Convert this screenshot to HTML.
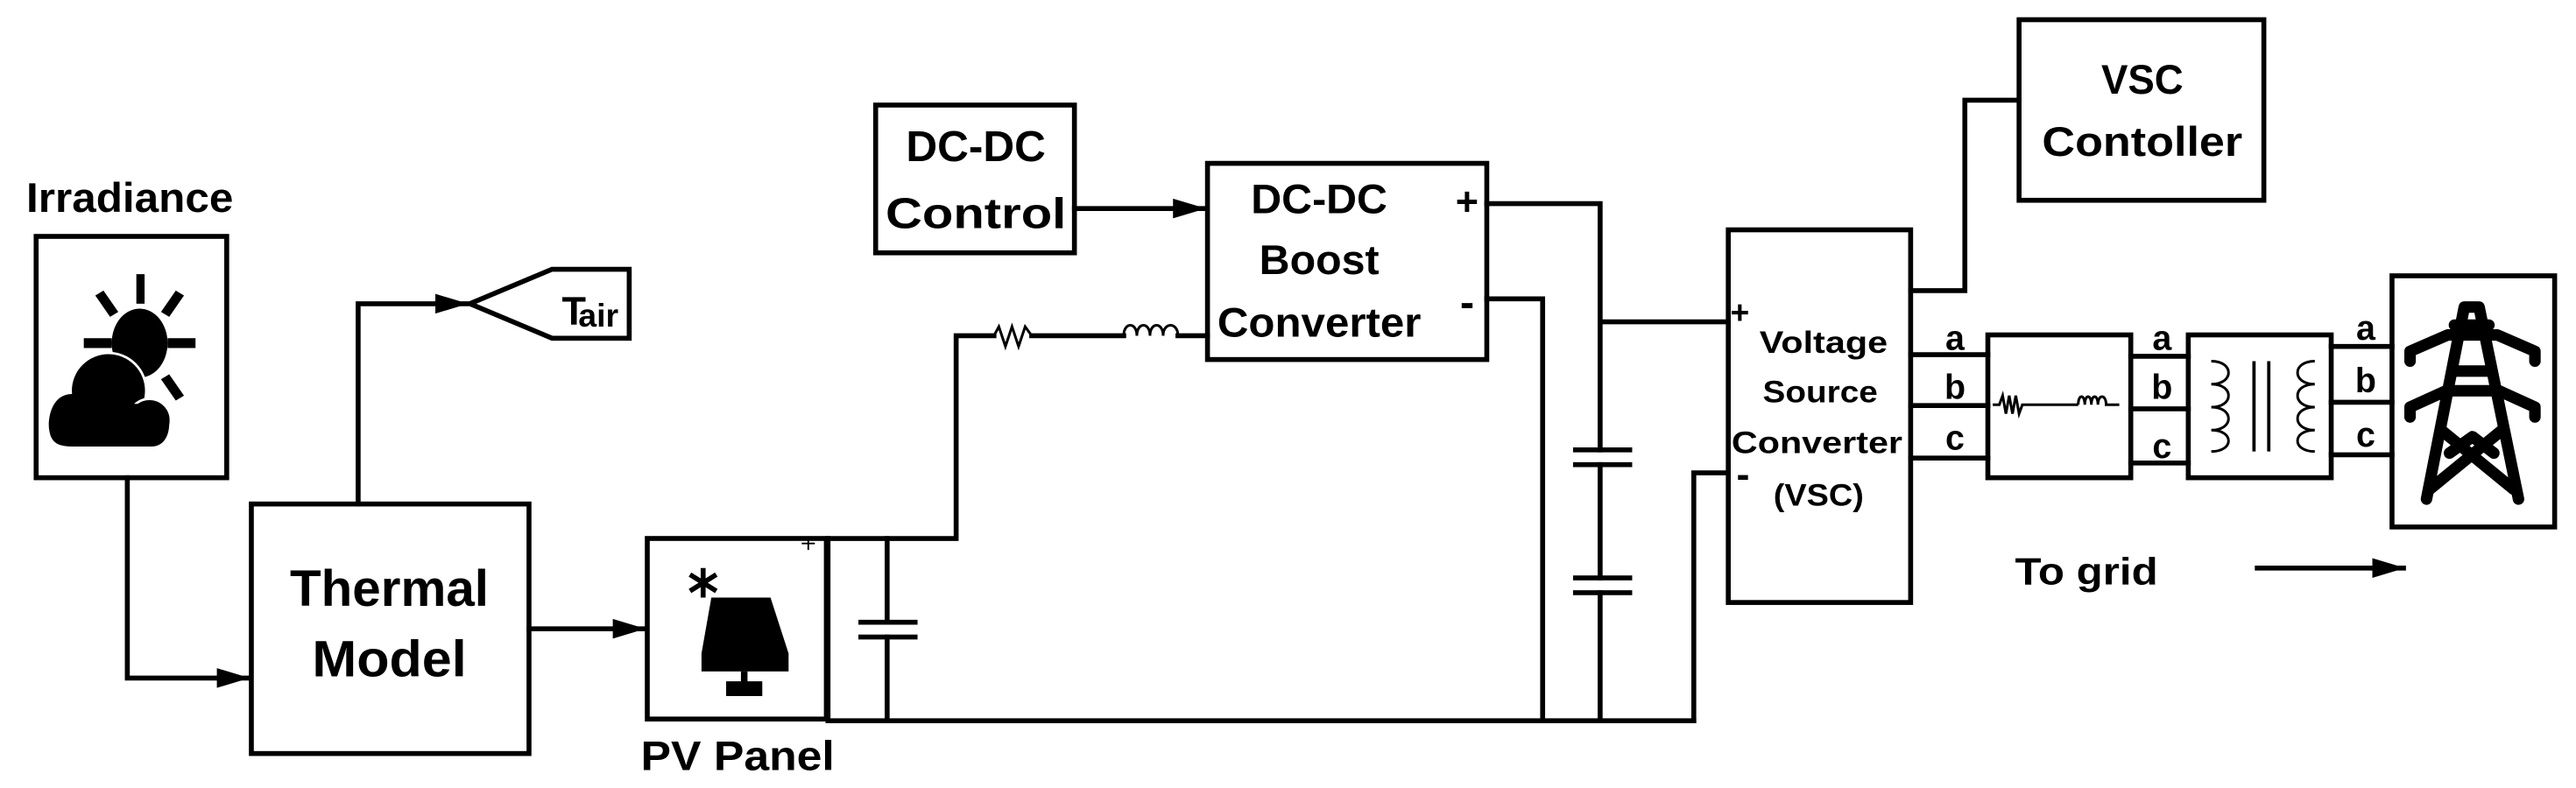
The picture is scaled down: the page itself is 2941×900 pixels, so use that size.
<!DOCTYPE html>
<html><head><meta charset="utf-8"><style>html,body{margin:0;padding:0;background:#fff}svg{display:block}</style></head>
<body>
<svg width="2941" height="900" viewBox="0 0 1568 480" preserveAspectRatio="none" xmlns="http://www.w3.org/2000/svg">
<defs>
<marker id="ar2" markerWidth="20" markerHeight="12" refX="19" refY="6" orient="auto" markerUnits="userSpaceOnUse"><path d="M0,0 L20,6 L0,12 Z" fill="#000"/></marker>
</defs>
<g fill="none" stroke="#000" stroke-width="3" stroke-linecap="square">
<rect x="22" y="144" width="116" height="147"/>
<path d="M77.5 291 V413 H151" marker-end="url(#ar2)"/>
<rect x="153" y="307" width="169" height="152"/>
<path d="M218 307 V185 H284" marker-end="url(#ar2)"/>
<path d="M286 185 L336 164 H383 V206 H336 Z"/>
<path d="M322 383 H392" marker-end="url(#ar2)"/>
<rect x="394" y="328" width="109" height="110"/>
<path d="M504 328 V439 H1031"/>
<path d="M504 328 H582 V204.5 H605"/>
<path d="M628 204.5 H684 M717 204.5 H735"/>
<path d="M540 328 V379 M540 388 V439"/>
<path d="M524 379 H557 M524 388 H557"/>
<rect x="533" y="64" width="121" height="90"/>
<path d="M654 127 H733" marker-end="url(#ar2)"/>
<rect x="735" y="99.5" width="170" height="119.5"/>
<path d="M905 124 H974 V274 M974 283 V352 M974 361 V439"/>
<path d="M959 274 H992 M959 283 H992 M959 352 H992 M959 361 H992"/>
<path d="M974 196 H1052"/>
<path d="M905 182 H939 V439"/>
<path d="M1052 288 H1031 V439"/>
<rect x="1052" y="140" width="111" height="227"/>
<rect x="1229" y="12" width="149" height="110"/>
<path d="M1163 177 H1196 V61 H1229"/>
<path d="M1163 216 H1210 M1163 247 H1210 M1163 279 H1210"/>
<rect x="1210" y="204" width="87" height="87"/>
<path d="M1297 217 H1332 M1297 249 H1332 M1297 282 H1332"/>
<rect x="1332" y="204" width="87" height="87"/>
<path d="M1419 211 H1456 M1419 245 H1456 M1419 277 H1456"/>
<rect x="1456" y="168" width="99" height="153"/>
<path d="M1374 346 H1463" marker-end="url(#ar2)"/>
</g>
<g fill="none" stroke="#000" stroke-width="1.6">
<path d="M605 204.5 L608 199 L612 211 L616 199 L620 211 L624 199 L628 204.5"/>
<path d="M684 204.5 C684 196 692 196 692 204.5 C692 196 700 196 700 204.5 C700 196 708 196 708 204.5 C708 196 717 196 717 204.5"/>
<path d="M1213 246.5 H1217 L1219 241 L1221 252 L1223 241 L1225 252 L1227 241 L1229 252 L1231 246.5 H1265"/>
<path d="M1265 246.5 C1265 240 1269 240 1269 246.5 C1269 240 1273 240 1273 246.5 C1273 240 1277 240 1277 246.5 C1277 240 1282 240 1282 246.5 H1290"/>
<path d="M1346 220 C1360 220 1360 234 1346 234 C1360 234 1360 248 1346 248 C1360 248 1360 262 1346 262 C1360 262 1360 275 1346 275"/>
<path d="M1409 220 C1395 220 1395 234 1409 234 C1395 234 1395 248 1409 248 C1395 248 1395 262 1409 262 C1395 262 1395 275 1409 275"/>
<path d="M1372 220 V275 M1381 220 V275" stroke-width="2"/>
<path d="M488 331 H496 M492 327 V335" stroke-width="1"/>
<path d="M428 346 V364 M420 350 L436 360 M420 360 L436 350" stroke-width="3"/>
</g>
<g fill="#000">
<ellipse cx="85" cy="209" rx="17" ry="21"/>
<rect x="83" y="167" width="5" height="18"/>
<rect x="51" y="206" width="17" height="6"/>
<rect x="102" y="206" width="17" height="6"/>
<path d="M58 180 L63 177 L72 190 L67 193Z"/>
<path d="M112 180 L107 177 L98 190 L103 193Z"/>
<path d="M107 244 L112 241 L103 228 L98 231Z"/>
<circle cx="66" cy="238" r="23" stroke="#fff" stroke-width="1.5"/>
<circle cx="91" cy="256" r="13" stroke="#fff" stroke-width="1.5"/>
<path d="M44 240 C30 240 29 258 30 262 C31 270 36 272 44 272 H92 C100 272 103 265 103 258 C103 250 98 246 90 246 H60Z"/>
<path d="M433 364 H469 L480 398 V409 H427 V398 Z"/>
<rect x="451" y="409" width="4" height="7"/>
<rect x="442" y="415" width="22" height="9"/>
</g>
<g fill="none" stroke="#000" stroke-width="7" stroke-linejoin="round" stroke-linecap="round">
<path d="M1477 304 L1500 187 H1509 L1533 304"/>
<path d="M1467 220 V214 L1490 204 H1520 L1543 214 V220"/>
<path d="M1467 254 V248 L1489 238 H1521 L1543 248 V254"/>
<path d="M1486 262 L1530 298 M1523 262 L1479 298 M1491 276 L1505 266 L1518 276"/>
<path d="M1494 198 H1515 M1494 226 H1516"/>
</g>
<g font-family="Liberation Sans, sans-serif" font-weight="bold" fill="#000" text-anchor="middle">
<text x="79" y="129" font-size="25" textLength="126" lengthAdjust="spacingAndGlyphs">Irradiance</text>
<text x="237" y="369" font-size="31" textLength="121" lengthAdjust="spacingAndGlyphs">Thermal</text>
<text x="237" y="412" font-size="31" textLength="94" lengthAdjust="spacingAndGlyphs">Model</text>
<text x="342" y="198" font-size="24" text-anchor="start">T</text>
<text x="352" y="199" font-size="20" text-anchor="start">air</text>
<text x="449" y="469" font-size="25" textLength="118" lengthAdjust="spacingAndGlyphs">PV Panel</text>
<text x="594" y="98" font-size="26" textLength="85" lengthAdjust="spacingAndGlyphs">DC-DC</text>
<text x="594" y="139" font-size="26" textLength="110" lengthAdjust="spacingAndGlyphs">Control</text>
<text x="803" y="130" font-size="25" textLength="83" lengthAdjust="spacingAndGlyphs">DC-DC</text>
<text x="803" y="167" font-size="25" textLength="73" lengthAdjust="spacingAndGlyphs">Boost</text>
<text x="803" y="205" font-size="25" textLength="124" lengthAdjust="spacingAndGlyphs">Converter</text>
<text x="893" y="131" font-size="24">+</text>
<text x="893" y="193" font-size="26">-</text>
<text x="1059" y="197" font-size="20">+</text>
<text x="1061" y="297" font-size="24">-</text>
<text x="1110" y="215" font-size="19" textLength="78" lengthAdjust="spacingAndGlyphs">Voltage</text>
<text x="1108" y="245" font-size="19" textLength="70" lengthAdjust="spacingAndGlyphs">Source</text>
<text x="1106" y="276" font-size="19" textLength="104" lengthAdjust="spacingAndGlyphs">Converter</text>
<text x="1107" y="308" font-size="19" textLength="55" lengthAdjust="spacingAndGlyphs">(VSC)</text>
<text x="1304" y="57" font-size="25" textLength="50" lengthAdjust="spacingAndGlyphs">VSC</text>
<text x="1304" y="95" font-size="25" textLength="122" lengthAdjust="spacingAndGlyphs">Contoller</text>
<g font-size="21">
<text x="1190" y="213">a</text><text x="1190" y="243">b</text><text x="1190" y="274">c</text>
<text x="1316" y="213">a</text><text x="1316" y="243">b</text><text x="1316" y="279">c</text>
<text x="1440" y="207">a</text><text x="1440" y="239">b</text><text x="1440" y="272">c</text>
</g>
<text x="1270" y="356" font-size="23" textLength="87" lengthAdjust="spacingAndGlyphs">To grid</text>
</g>
</svg>
</body></html>
